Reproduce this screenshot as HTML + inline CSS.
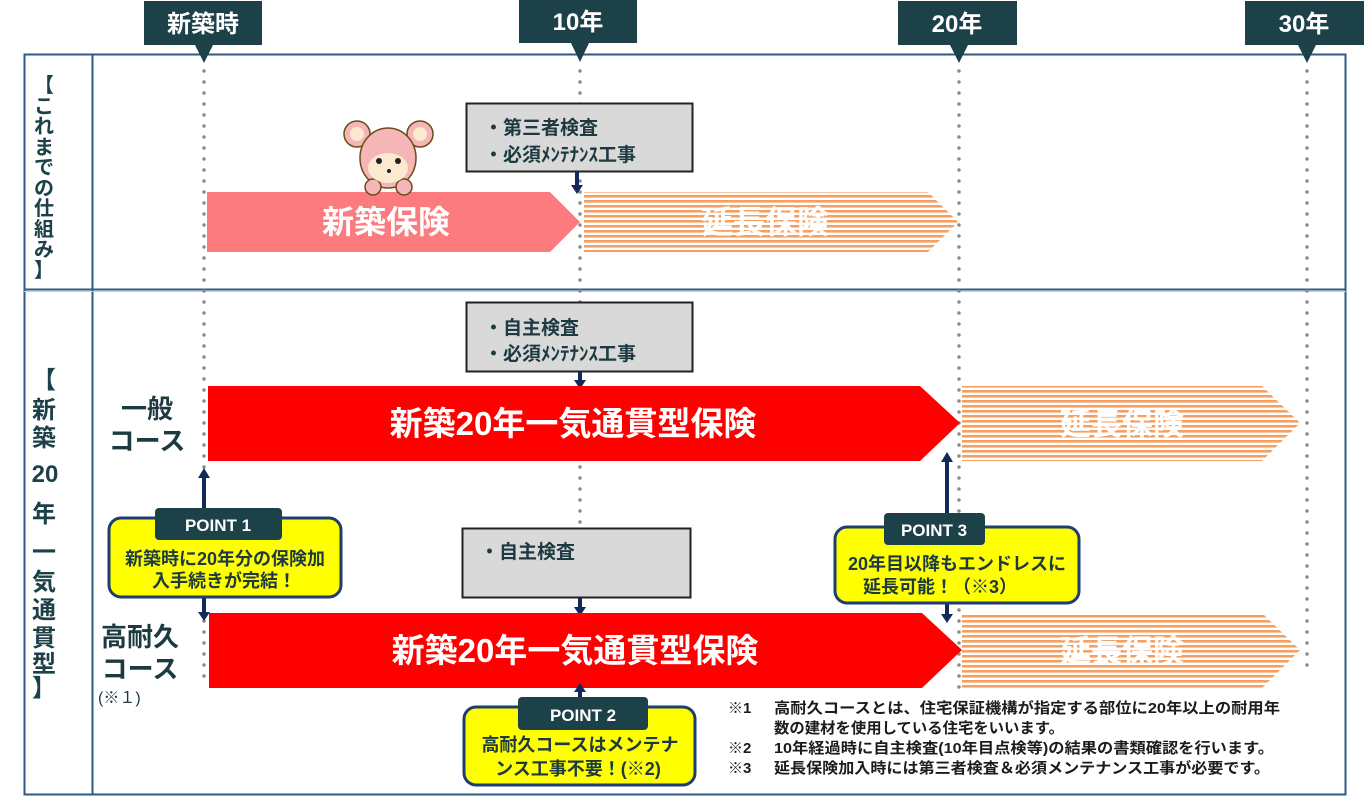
<!DOCTYPE html>
<html><head><meta charset="utf-8"><style>
html,body{margin:0;padding:0;background:#fff;}
svg{display:block;font-family:"Liberation Sans","Noto Sans CJK JP",sans-serif;}
</style></head><body>
<svg width="1364" height="798" viewBox="0 0 1364 798" xmlns="http://www.w3.org/2000/svg">
<defs>
<pattern id="st" width="10" height="5" patternUnits="userSpaceOnUse">
<rect width="10" height="5" fill="#fff"/><rect y="0" width="10" height="2.6" fill="#f5a060"/>
</pattern>
</defs>
<rect x="24.5" y="54.5" width="1321" height="740" fill="none" stroke="#2e5a86" stroke-width="2"/>
<line x1="92.5" y1="54" x2="92.5" y2="795" stroke="#2e5a86" stroke-width="2"/>
<line x1="24" y1="289.5" x2="1346" y2="289.5" stroke="#2e5a86" stroke-width="2"/>
<line x1="24" y1="291.5" x2="1346" y2="291.5" stroke="#c8ccd4" stroke-width="1"/>
<g stroke="#8a8a8a" stroke-width="3.5" stroke-linecap="round" stroke-dasharray="0 11">
<line x1="204" y1="71" x2="204" y2="680"/>
<line x1="580" y1="71" x2="580" y2="690"/>
<line x1="959" y1="71" x2="959" y2="690"/>
<line x1="1307" y1="71" x2="1307" y2="675"/>
</g>
<g fill="#1c4148">
<rect x="144" y="1" width="118" height="44"/><polygon points="195,45 213,45 204,63"/>
<rect x="519" y="0" width="118" height="43"/><polygon points="571,43 589,43 580,62"/>
<rect x="898" y="1" width="119" height="44"/><polygon points="950,45 968,45 959,63"/>
<rect x="1245" y="1" width="119" height="44"/><polygon points="1298,45 1316,45 1307,63"/>
</g>
<g fill="#fff" font-weight="bold" font-size="24" text-anchor="middle">
<text x="203" y="32">新築時</text>
<text x="578" y="30">10年</text>
<text x="957" y="32">20年</text>
<text x="1304" y="32">30年</text>
</g>
<g fill="#1c4148" font-weight="bold" font-size="20" text-anchor="middle">
<text x="44" y="92">【</text>
<text x="44" y="113">こ</text><text x="44" y="133">れ</text><text x="44" y="154">ま</text><text x="44" y="174">で</text><text x="44" y="195">の</text><text x="44" y="215">仕</text><text x="44" y="236">組</text><text x="44" y="256">み</text>
<text x="44" y="277">】</text>
</g>
<g fill="#1c4148" font-weight="bold" font-size="24" text-anchor="middle">
<text x="44" y="388">【</text>
<text x="44" y="418">新</text><text x="44" y="446">築</text>
<text x="45" y="482">20</text><text x="44" y="522">年</text>
<text x="44" y="560">一</text><text x="44" y="590">気</text><text x="44" y="618">通</text><text x="44" y="646">貫</text><text x="44" y="672">型</text>
<text x="44" y="696">】</text>
</g>
<rect x="466.5" y="103.5" width="226" height="68" fill="#d9d9d9" stroke="#222" stroke-width="2"/>
<g fill="#1c3a40" font-weight="bold" font-size="19"><text x="484" y="134">・第三者検査</text><text x="484" y="161">・必須ﾒﾝﾃﾅﾝｽ工事</text></g>
<line x1="577" y1="172" x2="577" y2="186" stroke="#13295a" stroke-width="4"/><polygon points="571,185 583,185 577,194" fill="#13295a"/>
<polygon points="207,192 550,192 580,222 550,252 207,252" fill="#fb7b7e"/>
<polygon points="584,192 928,192 958,222 928,252 584,252" fill="url(#st)"/>
<text x="386" y="233" fill="#fff" font-size="32" font-weight="bold" text-anchor="middle">新築保険</text>
<text x="765" y="233" fill="#fff" font-size="32" font-weight="bold" text-anchor="middle">延長保険</text>
<g stroke="#6b4a1a" stroke-width="1.5">
<circle cx="357" cy="134" r="13" fill="#f4b6b6"/><circle cx="420" cy="134" r="13" fill="#f4b6b6"/>
<circle cx="357" cy="134" r="7" fill="#fde8d0" stroke="none"/><circle cx="420" cy="134" r="7" fill="#fde8d0" stroke="none"/>
<ellipse cx="388" cy="158" rx="28" ry="30" fill="#f4b6b6"/>
<circle cx="373" cy="187" r="8" fill="#f4b6b6"/><circle cx="404" cy="187" r="8" fill="#f4b6b6"/>
</g>
<ellipse cx="388" cy="168" rx="20" ry="15" fill="#fde8d0"/>
<circle cx="379" cy="161" r="3" fill="#222"/><circle cx="398" cy="161" r="3" fill="#222"/><circle cx="389" cy="171" r="2" fill="#222"/>
<rect x="466.5" y="302.5" width="226" height="69" fill="#d9d9d9" stroke="#222" stroke-width="2"/>
<g fill="#1c3a40" font-weight="bold" font-size="19"><text x="484" y="334">・自主検査</text><text x="484" y="360">・必須ﾒﾝﾃﾅﾝｽ工事</text></g>
<line x1="580" y1="372" x2="580" y2="381" stroke="#13295a" stroke-width="4"/><polygon points="574,380 586,380 580,389" fill="#13295a"/>
<polygon points="208,386 920,386 960,423 920,461 208,461" fill="#fe0000"/>
<polygon points="962,386 1262,386 1300,423 1262,461 962,461" fill="url(#st)"/>
<text x="573" y="435" fill="#fff" font-size="33" font-weight="bold" text-anchor="middle">新築20年一気通貫型保険</text>
<text x="1122" y="435" fill="#fff" font-size="31" font-weight="bold" text-anchor="middle">延長保険</text>
<g fill="#1c3a40" font-weight="bold" font-size="26" text-anchor="middle">
<text x="147" y="418">一般</text><text x="147" y="450">コース</text>
<text x="140" y="646">高耐久</text><text x="140" y="678">コース</text>
</g>
<text x="98" y="703" fill="#1c3a40" font-size="16">(※１)</text>
<rect x="462.5" y="528.5" width="228" height="69" fill="#d9d9d9" stroke="#222" stroke-width="2"/>
<text x="480" y="558" fill="#1c3a40" font-weight="bold" font-size="19">・自主検査</text>
<line x1="580" y1="598" x2="580" y2="608" stroke="#13295a" stroke-width="4"/><polygon points="574,607 586,607 580,616" fill="#13295a"/>
<polygon points="209,613 922,613 962,650 922,688 209,688" fill="#fe0000"/>
<polygon points="962,613 1262,613 1300,650 1262,688 962,688" fill="url(#st)"/>
<text x="575" y="662" fill="#fff" font-size="33" font-weight="bold" text-anchor="middle">新築20年一気通貫型保険</text>
<text x="1122" y="662" fill="#fff" font-size="31" font-weight="bold" text-anchor="middle">延長保険</text>
<g stroke="#13295a" stroke-width="4">
<line x1="204" y1="476" x2="204" y2="510"/><line x1="204" y1="597" x2="204" y2="614"/>
<line x1="947" y1="460" x2="947" y2="514"/><line x1="947" y1="603" x2="947" y2="616"/>
<line x1="580" y1="690" x2="580" y2="700"/>
</g>
<g fill="#13295a">
<polygon points="198,478 210,478 204,468"/><polygon points="198,612 210,612 204,621"/>
<polygon points="941,462 953,462 947,452"/><polygon points="941,614 953,614 947,623"/>
<polygon points="574,692 586,692 580,683"/>
</g>
<g stroke="#1d3e6e" stroke-width="3" fill="#ffff00">
<rect x="109" y="518" width="232" height="79" rx="12"/>
<rect x="835" y="527" width="244" height="76" rx="12"/>
<rect x="464" y="707" width="231" height="78" rx="12"/>
</g>
<g fill="#1c4148">
<rect x="155" y="508" width="127" height="32" rx="4"/>
<rect x="884" y="513" width="101" height="32" rx="4"/>
<rect x="518" y="697" width="130" height="33" rx="4"/>
</g>
<g fill="#fff" font-weight="bold" font-size="17" text-anchor="middle">
<text x="218" y="531">POINT 1</text><text x="934" y="536">POINT 3</text><text x="583" y="721">POINT 2</text>
</g>
<g fill="#1c3a40" font-weight="bold" font-size="18" text-anchor="middle">
<text x="225" y="565">新築時に20年分の保険加</text><text x="224" y="587">入手続きが完結！</text>
<text x="957" y="570">20年目以降もエンドレスに</text><text x="940" y="593">延長可能！（※3）</text>
<text x="580" y="751">高耐久コースはメンテナ</text><text x="578" y="775">ンス工事不要！(※2)</text>
</g>
<g fill="#1c1c1c" font-weight="bold" font-size="15">
<text x="728" y="713">※1</text><text x="774" y="713" textLength="506" lengthAdjust="spacingAndGlyphs">高耐久コースとは、住宅保証機構が指定する部位に20年以上の耐用年</text>
<text x="774" y="733" textLength="290" lengthAdjust="spacingAndGlyphs">数の建材を使用している住宅をいいます。</text>
<text x="728" y="753">※2</text><text x="774" y="753" textLength="500" lengthAdjust="spacingAndGlyphs">10年経過時に自主検査(10年目点検等)の結果の書類確認を行います。</text>
<text x="728" y="773">※3</text><text x="774" y="773" textLength="496" lengthAdjust="spacingAndGlyphs">延長保険加入時には第三者検査＆必須メンテナンス工事が必要です。</text>
</g>
</svg>
</body></html>
